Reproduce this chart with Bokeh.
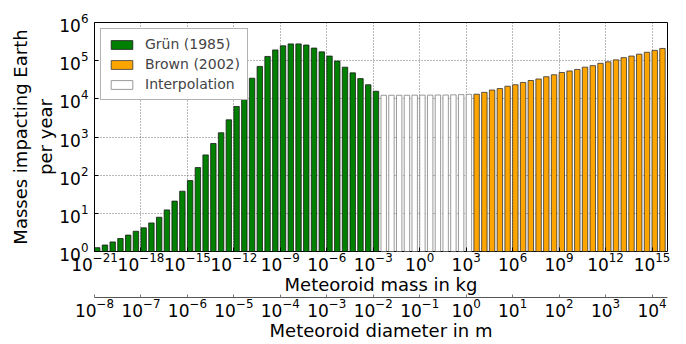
from bokeh.plotting import figure
from bokeh.models import (Range1d, LogScale, LogAxis, FixedTicker, Legend,
                          LegendItem, ColumnDataSource, Title)
from bokeh.embed import file_html
from bokeh.resources import INLINE

# ---- data (log10 of meteoroid mass in kg for each bar, impacts per year) ----
gruen_exp = [-21.0, -20.5, -20.0, -19.5, -19.0, -18.5, -18.0, -17.5, -17.0,
             -16.5, -16.0, -15.5, -15.0, -14.5, -14.0, -13.5, -13.0, -12.5,
             -12.0, -11.5, -11.0, -10.5, -10.0, -9.5, -9.0, -8.5, -8.0, -7.5,
             -7.0, -6.5, -6.0, -5.5, -5.0, -4.5, -4.0, -3.5, -3.0]
gruen_counts = [1.26, 1.48, 1.78, 2.19, 2.69, 3.39, 4.17, 5.6, 7.9, 12.3,
                20.9, 38, 72, 158, 339, 676, 1290, 2820, 6310, 15100, 34700,
                70800, 129000, 191000, 245000, 275000, 275000, 257000, 214000,
                170000, 132000, 97700, 67600, 47900, 33900, 23400, 15800]

interp_exp = [-2.5, -2.0, -1.5, -1.0, -0.5, 0.0, 0.5, 1.0, 1.5, 2.0, 2.5, 3.0]
interp_counts = [12400, 12400, 12400, 12400, 12500, 12500, 12500, 12600,
                 12600, 12700, 12900, 13100]

brown_exp = [3.5, 4.0, 4.5, 5.0, 5.5, 6.0, 6.5, 7.0, 7.5, 8.0, 8.5, 9.0, 9.5,
             10.0, 10.5, 11.0, 11.5, 12.0, 12.5, 13.0, 13.5, 14.0, 14.5, 15.0,
             15.5]
brown_counts = [13200, 14800, 17000, 18600, 21400, 23400, 26900, 30200, 33100,
                38000, 42700, 49000, 53700, 58900, 67600, 74100, 85100, 93300,
                105000, 120000, 132000, 148000, 166000, 186000, 209000]

mass_ticks = [1e-21, 1e-18, 1e-15, 1e-12, 1e-9, 1e-6, 1e-3, 1e0, 1e3, 1e6,
              1e9, 1e12, 1e15]
y_ticks = [1e0, 1e1, 1e2, 1e3, 1e4, 1e5, 1e6]
diam_ticks = [1e-8, 1e-7, 1e-6, 1e-5, 1e-4, 1e-3, 1e-2, 1e-1, 1e0, 1e1, 1e2,
              1e3, 1e4]

labels = ["Grün (1985)", "Brown (2002)", "Interpolation"]
y_label_lines = ["Masses impacting Earth", "per year"]

BAR_W = 0.35  # bar width in decades
FONT = "DejaVu Sans"


def src(exps, counts):
    return ColumnDataSource(dict(
        left=[10 ** e for e in exps],
        right=[10 ** (e + BAR_W) for e in exps],
        top=counts,
        bottom=[1.0] * len(exps),
    ))


p = figure(width=686, height=344, x_axis_type="log", y_axis_type="log",
           x_range=Range1d(1e-21, 1e16), y_range=Range1d(1, 1e6),
           output_backend="svg", toolbar_location=None,
           min_border_left=94, min_border_right=19, min_border_top=22,
           min_border_bottom=93)
p.background_fill_color = "white"
p.border_fill_color = "white"
p.outline_line_color = "black"
p.outline_line_width = 1

p.extra_x_ranges = {"diam": Range1d(1e-8, 10 ** (-8 + 37 / 3))}
p.extra_x_scales = {"diam": LogScale()}

r_g = p.quad(source=src(gruen_exp, gruen_counts), left="left", right="right",
             top="top", bottom="bottom", fill_color="green",
             line_color="#1a1a1a", line_width=0.8)
r_b = p.quad(source=src(brown_exp, brown_counts), left="left", right="right",
             top="top", bottom="bottom", fill_color="orange",
             line_color="#333333", line_width=0.8)
r_i = p.quad(source=src(interp_exp, interp_counts), left="left", right="right",
             top="top", bottom="bottom", fill_color="white",
             line_color="#808080", line_width=0.8)

# axes styling
xa = p.xaxis[0]
xa.ticker = FixedTicker(ticks=mass_ticks)
xa.axis_label = "Meteoroid mass in kg"
ya = p.yaxis[0]
ya.ticker = FixedTicker(ticks=y_ticks)

for ax in (xa, ya):
    ax.axis_line_color = None
    ax.major_tick_in = 4
    ax.major_tick_out = 0
    ax.minor_tick_line_color = None
    ax.major_label_text_font = FONT
    ax.major_label_text_font_size = "17px"
    ax.major_label_text_color = "black"
    ax.axis_label_text_font = FONT
    ax.axis_label_text_font_size = "18px"
    ax.axis_label_text_font_style = "normal"
    ax.axis_label_text_color = "black"
xa.major_label_standoff = 0
xa.axis_label_standoff = 0
ya.major_label_standoff = 6

# two-line y label, shifted a little upwards like the original
for line, sby in zip(reversed(y_label_lines), (2, 2)):
    t = Title(text=line, align="center", offset=11, standoff=sby,
              text_font=FONT, text_font_size="18px",
              text_font_style="normal", text_color="black")
    p.add_layout(t, "left")

da = LogAxis(x_range_name="diam", ticker=FixedTicker(ticks=diam_ticks),
             axis_label="Meteoroid diameter in m")
da.axis_line_color = "#555555"
da.major_tick_in = 3
da.major_tick_out = 0
da.major_tick_line_color = "#777777"
da.minor_tick_line_color = None
da.major_label_text_font = FONT
da.major_label_text_font_size = "17px"
da.major_label_text_color = "black"
da.major_label_standoff = 0
da.axis_label_text_font = FONT
da.axis_label_text_font_size = "18px"
da.axis_label_text_font_style = "normal"
da.axis_label_text_color = "black"
da.axis_label_standoff = 0
p.add_layout(da, "below")

for g in (p.xgrid[0], p.ygrid[0]):
    g.grid_line_color = "black"
    g.grid_line_alpha = 0.55
    g.grid_line_dash = "1 2"
    g.grid_line_width = 1
p.xgrid[0].ticker = FixedTicker(ticks=mass_ticks)
p.ygrid[0].ticker = FixedTicker(ticks=y_ticks)

legend = Legend(items=[LegendItem(label=labels[0], renderers=[r_g]),
                       LegendItem(label=labels[1], renderers=[r_b]),
                       LegendItem(label=labels[2], renderers=[r_i])],
                location="top_left")
legend.margin = 6
legend.padding = 7
legend.spacing = 4
legend.glyph_width = 27
legend.glyph_height = 11
legend.label_height = 14
legend.label_standoff = 10
legend.label_text_font = FONT
legend.label_text_font_size = "14px"
legend.border_line_color = "#666666"
legend.border_line_width = 1
legend.background_fill_alpha = 1
p.add_layout(legend)

open("out.html", "w").write(file_html(p, INLINE))
